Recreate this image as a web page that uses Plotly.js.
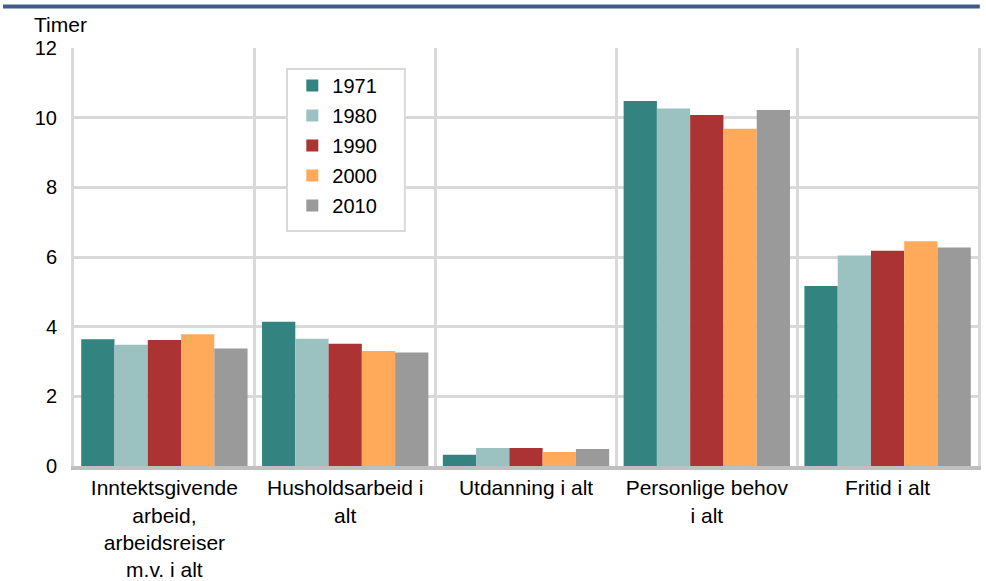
<!DOCTYPE html>
<html>
<head>
<meta charset="utf-8">
<script src="https://cdn.plot.ly/plotly-3.0.1.min.js"></script>
<style>
html,body{margin:0;padding:0;background:#fff;}
#chart{width:986px;height:581px;}
</style>
</head>
<body>
<div id="chart"></div>
<script>
const categories = [
  "Inntektsgivende<br>arbeid,<br>arbeidsreiser<br>m.v. i alt",
  "Husholdsarbeid i<br>alt",
  "Utdanning i alt",
  "Personlige behov<br>i alt",
  "Fritid i alt"
];
const years = ["1971", "1980", "1990", "2000", "2010"];
const v1971 = [3.64, 4.14, 0.32, 10.48, 5.17];
const v1980 = [3.48, 3.65, 0.52, 10.26, 6.04];
const v1990 = [3.62, 3.51, 0.52, 10.08, 6.18];
const v2000 = [3.78, 3.30, 0.40, 9.68, 6.45];
const v2010 = [3.37, 3.26, 0.49, 10.22, 6.27];
const yTicks = [0, 2, 4, 6, 8, 10, 12];

const seriesValues = [v1971, v1980, v1990, v2000, v2010];
const colors = ["#338481", "#9bc1c1", "#ab3333", "#ffa95a", "#9a9a9a"];

const traces = years.map((yr, i) => ({
  type: "bar",
  name: yr,
  x: categories,
  y: seriesValues[i],
  marker: {color: colors[i], line: {width: 0}},
  legendgroup: yr,
  hoverinfo: "y"
}));

const layout = {
  width: 986,
  height: 581,
  margin: {l: 74, r: 8, t: 48, b: 115},
  paper_bgcolor: "#ffffff",
  plot_bgcolor: "#ffffff",
  font: {family: "Liberation Sans, Arial, sans-serif", size: 20, color: "#000000"},
  barmode: "group",
  bargap: 0.08,
  bargroupgap: 0,
  showlegend: true,
  legend: {
    x: 0.2415, y: 0.957, xanchor: "left", yanchor: "top",
    bgcolor: "rgba(0,0,0,0)", borderwidth: 0,
    font: {size: 20, color: "#000"},
    traceorder: "grouped",
    tracegroupgap: 1
  },
  xaxis: {
    type: "category",
    tickson: "boundaries",
    showgrid: true,
    gridcolor: "#d9d9d9",
    gridwidth: 3,
    ticks: "",
    showline: true,
    linecolor: "#bfbfbf",
    linewidth: 4,
    tickfont: {size: 21, color: "#000"},
    automargin: false
  },
  yaxis: {
    range: [0, 12],
    tickvals: yTicks,
    ticktext: yTicks.map(String),
    showgrid: true,
    gridcolor: "#d9d9d9",
    gridwidth: 3,
    zeroline: false,
    showline: true,
    mirror: true,
    linecolor: "#d9d9d9",
    linewidth: 3,
    ticks: "outside",
    ticklen: 10,
    tickcolor: "rgba(0,0,0,0)",
    tickfont: {size: 20, color: "#000"},
    automargin: false
  },
  annotations: [{
    text: "Timer", xref: "paper", yref: "paper",
    x: -0.047, y: 1.057, xanchor: "left", yanchor: "middle",
    showarrow: false, font: {size: 21, color: "#000"}
  }],
  shapes: [
    {
      type: "line", xref: "paper", yref: "paper",
      x0: -0.0785, x1: 1.002, y0: 1.099, y1: 1.099,
      line: {color: "#3f5a8c", width: 4}
    },
    {
      type: "rect", xref: "paper", yref: "paper", layer: "above",
      x0: 0.2356, x1: 0.366, y0: 0.562, y1: 0.95,
      fillcolor: "#ffffff",
      line: {color: "#d9d9d9", width: 2}
    }
  ]
};

Plotly.newPlot("chart", traces, layout, {displayModeBar: false, staticPlot: true});
</script>
</body>
</html>
